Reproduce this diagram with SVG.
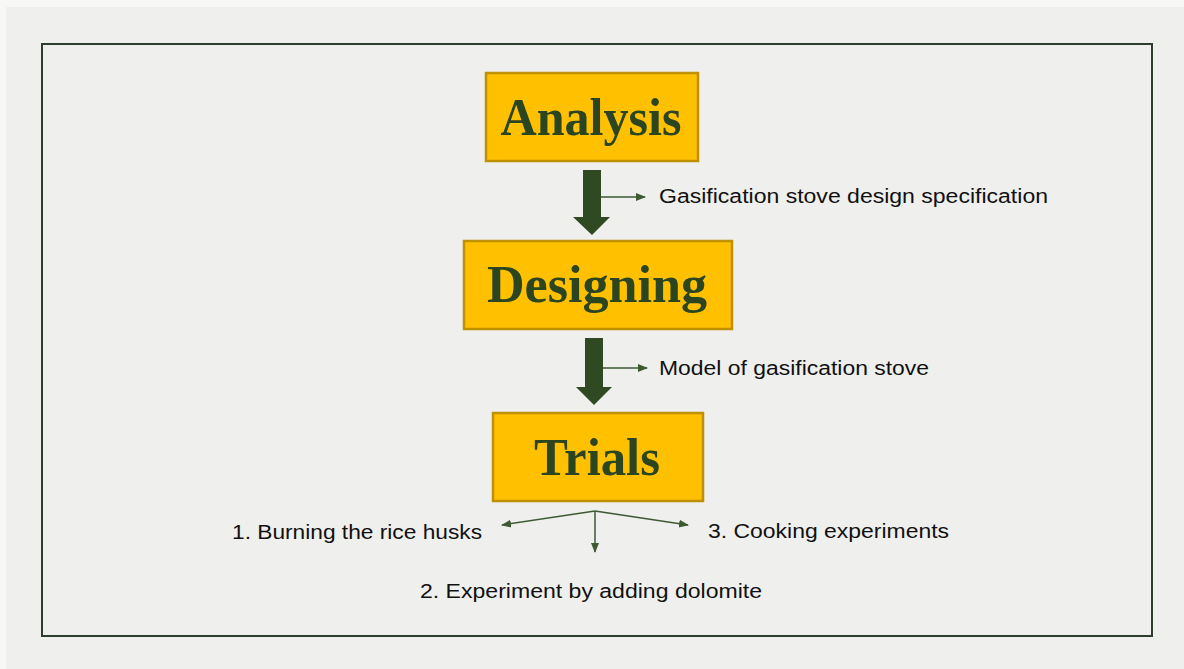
<svg xmlns="http://www.w3.org/2000/svg" width="1184" height="669" viewBox="0 0 1184 669">
<style>
.box{fill:#ffc000;stroke:#bf9000;stroke-width:2.5}
.title{font-family:"Liberation Serif","DejaVu Serif",serif;font-weight:bold;font-size:52px;fill:#2b4520;text-anchor:middle}
.lbl{font-family:"Liberation Sans",Arial,sans-serif;font-size:20px;fill:#111}
.thin{stroke:#3d5a33;stroke-width:1.5;fill:none}
.big{fill:#2f4a22}
</style>
<defs>
<marker id="ah" viewBox="0 0 10 10" refX="9" refY="5" markerWidth="10" markerHeight="10" markerUnits="userSpaceOnUse" orient="auto">
<path d="M0,1 L10,5 L0,9 Z" fill="#3d5a33"/>
</marker>
</defs>
<rect x="0" y="0" width="1184" height="669" fill="#f7f7f6"/>
<rect x="6" y="7" width="1178" height="662" fill="#efefed"/>
<rect id="frame" x="42" y="44" width="1110" height="592" fill="none" stroke="#2e3d2e" stroke-width="2"/>

<g id="analysis">
<rect class="box" x="486" y="73" width="212" height="88"/>
<text class="title" x="591" y="135" textLength="181" lengthAdjust="spacingAndGlyphs">Analysis</text>
</g>
<g id="designing">
<rect class="box" x="464" y="241" width="268" height="88"/>
<text class="title" x="597" y="302" textLength="220" lengthAdjust="spacingAndGlyphs">Designing</text>
</g>
<g id="trials">
<rect class="box" x="493" y="413" width="210" height="88"/>
<text class="title" x="597" y="475" textLength="126" lengthAdjust="spacingAndGlyphs">Trials</text>
</g>

<g id="connectors">
<path class="big" d="M583,170 H601 V217 H610 L592,235 L573,217 H583 Z"/>
<path class="big" d="M585,338 H603 V387 H612 L594,405 L576,387 H585 Z"/>
<line class="thin" x1="601" y1="197" x2="645" y2="197" marker-end="url(#ah)"/>
<line class="thin" x1="603" y1="368" x2="647" y2="368" marker-end="url(#ah)"/>
<line class="thin" x1="595" y1="511" x2="502" y2="525" marker-end="url(#ah)"/>
<line class="thin" x1="595" y1="511" x2="688" y2="525" marker-end="url(#ah)"/>
<line class="thin" x1="595" y1="511" x2="595" y2="552" marker-end="url(#ah)"/>
</g>

<g id="labels">
<text class="lbl" x="659" y="203" textLength="389" lengthAdjust="spacingAndGlyphs">Gasification stove design specification</text>
<text class="lbl" x="659" y="375" textLength="270" lengthAdjust="spacingAndGlyphs">Model of gasification stove</text>
<text class="lbl" x="232" y="539" textLength="250" lengthAdjust="spacingAndGlyphs">1. Burning the rice husks</text>
<text class="lbl" x="708" y="538" textLength="241" lengthAdjust="spacingAndGlyphs">3. Cooking experiments</text>
<text class="lbl" x="420" y="598" textLength="342" lengthAdjust="spacingAndGlyphs">2. Experiment by adding dolomite</text>
</g>
</svg>
